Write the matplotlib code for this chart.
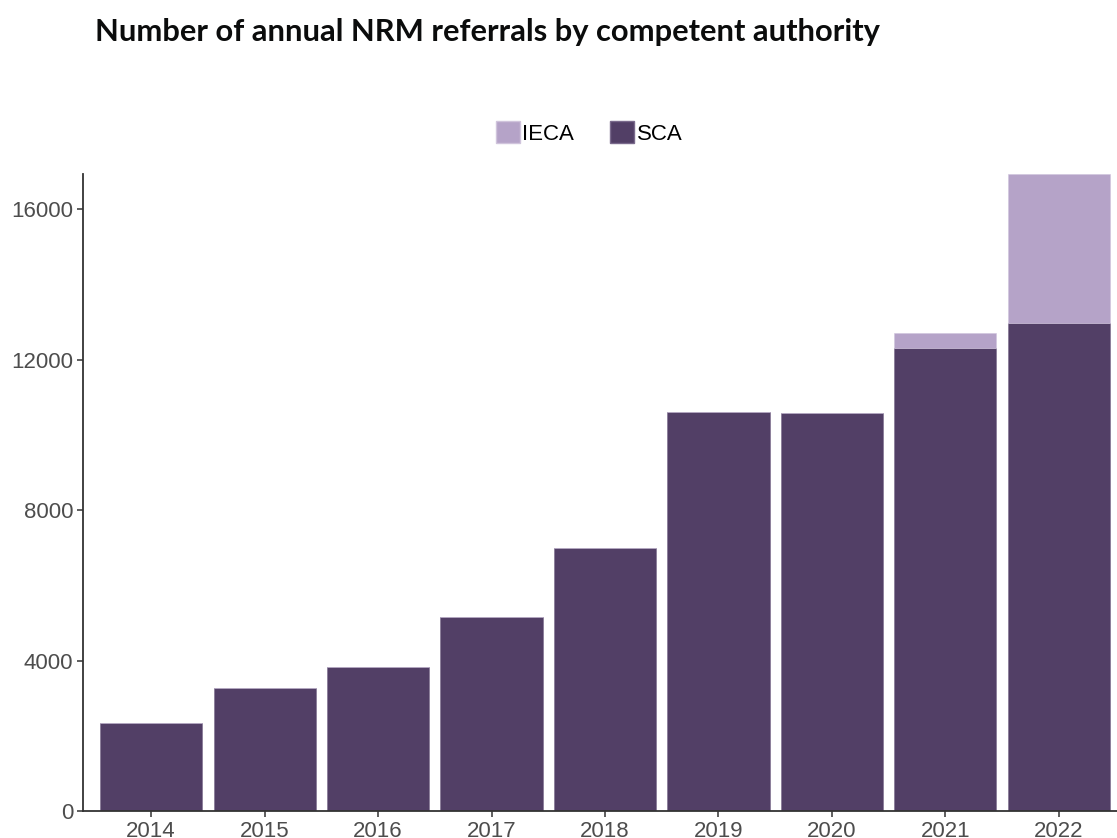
import matplotlib
matplotlib.use("Agg")
import matplotlib.pyplot as plt
from matplotlib.patches import Patch

years = ["2014", "2015", "2016", "2017", "2018", "2019", "2020", "2021", "2022"]
sca = [2337, 3262, 3820, 5150, 6985, 10620, 10595, 12300, 12990]
ieca = [0, 0, 0, 0, 0, 0, 0, 410, 3950]
yticks = [0, 4000, 8000, 12000, 16000]

c_sca = "#523F66"
c_ieca = "#B5A3C8"

plt.rcParams['font.family'] = ['Liberation Sans', 'DejaVu Sans']

fig = plt.figure(figsize=(11.17, 8.38), dpi=100)
ax = fig.add_axes([83/1117, 27/838, (1127-83)/1117, (811-174)/838])

x = list(range(len(years)))
ax.bar(x, sca, width=0.9, color=c_sca, edgecolor="#7A6A8C", linewidth=0.4, label="SCA")
ax.bar(x, ieca, width=0.9, bottom=sca, color=c_ieca, edgecolor="#D0C4DC", linewidth=0.4, label="IECA")

totals = [s + i for s, i in zip(sca, ieca)]
ax.set_xlim(-0.6, len(years) - 1 + 0.6)
ax.set_ylim(0, max(totals))
ax.set_xticks(x)
ax.set_xticklabels(years)
ax.set_yticks(yticks)
ax.set_yticklabels([str(v) for v in yticks])

for s in ["top", "right"]:
    ax.spines[s].set_visible(False)
for s in ["left", "bottom"]:
    ax.spines[s].set_color("#333333")
    ax.spines[s].set_linewidth(1.3)
ax.tick_params(axis="both", colors="#333333", labelcolor="#4D4D4D", labelsize=16, length=4, width=1.1, pad=3)

fig.text(95/1117, 1 - 32/838, "Number of annual NRM referrals by competent authority",
         fontsize=22.2, fontweight="bold", family=["Lato", "DejaVu Sans"], va="center", ha="left", color="#0B0C0C")

handles = [Patch(facecolor=c_ieca, edgecolor="#D0C4DC", label="IECA"),
           Patch(facecolor=c_sca, edgecolor="#7A6A8C", label="SCA")]
fig.legend(handles=handles, loc="center", bbox_to_anchor=(589/1117, 1 - 133/838), ncol=2, frameon=False,
           fontsize=16, handlelength=1.1, handleheight=1.1, handletextpad=0.1, columnspacing=1.6)

fig.savefig("out.png", dpi=100)
